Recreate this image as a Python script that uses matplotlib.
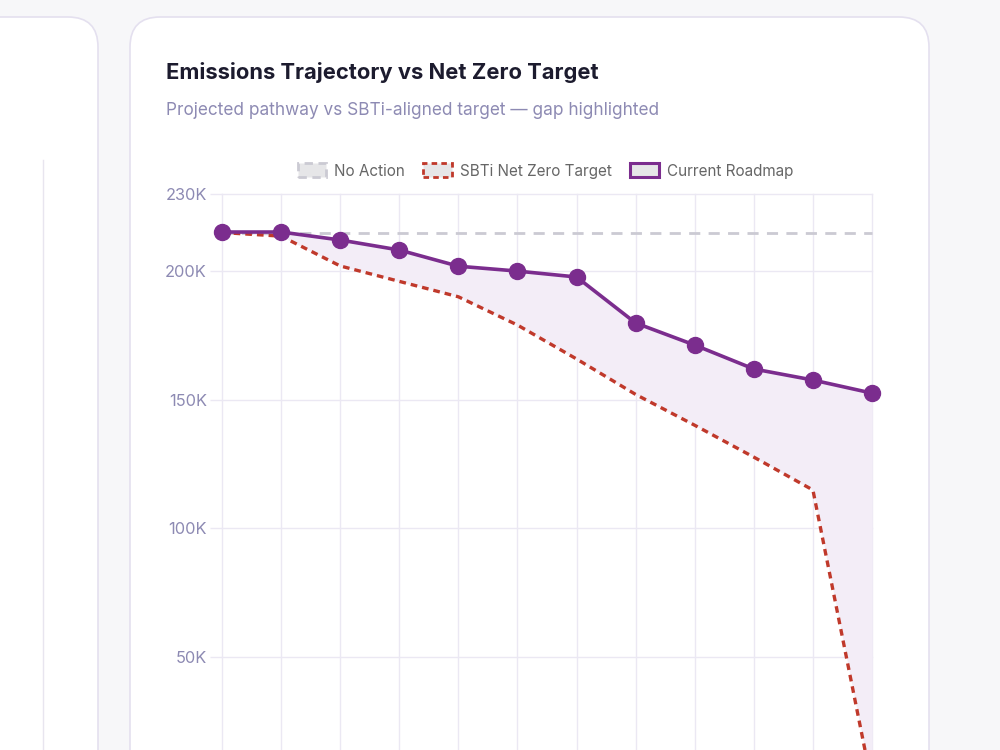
import matplotlib
matplotlib.use("Agg")
import matplotlib.pyplot as plt
from matplotlib.patches import FancyBboxPatch, Patch

plt.rcParams['font.family'] = ['Inter', 'DejaVu Sans']

# ---- data ----
years = [2024, 2025, 2026, 2027, 2028, 2029, 2030, 2031, 2032, 2033, 2034, 2035]
no_action = [215000] * 12
sbti_target = [215000, 213600, 202000, 196000, 190000, 179000, 165800, 152000, 140000, 127600, 114800, 0]
current_roadmap = [215200, 215200, 212100, 208200, 201900, 200000, 197700, 179800, 171200, 161900, 157600, 152500]
y_ticks = [50000, 100000, 150000, 200000, 230000]
y_tick_labels = ["50K", "100K", "150K", "200K", "230K"]

title = "Emissions Trajectory vs Net Zero Target"
subtitle = "Projected pathway vs SBTi-aligned target \u2014 gap highlighted"

W, H = 1000, 750
fig = plt.figure(figsize=(10, 7.5), dpi=100)
fig.patch.set_facecolor('#f7f7f9')

# background layer in pixel coords
bg = fig.add_axes([0, 0, 1, 1], zorder=-5)
bg.set_xlim(0, W)
bg.set_ylim(H, 0)
bg.axis('off')
card_edge = '#e4e0ef'
bg.add_patch(FancyBboxPatch((-200, 17), 298, 900, boxstyle="round,pad=0,rounding_size=30",
                            facecolor='white', edgecolor=card_edge, linewidth=1.2))
bg.add_patch(FancyBboxPatch((130, 17), 799, 900, boxstyle="round,pad=0,rounding_size=30",
                            facecolor='white', edgecolor=card_edge, linewidth=1.2))
bg.plot([43, 43], [160, 760], color='#e8e5ef', linewidth=1)

def fx(px):
    return px / W

def fy(py):
    return 1 - py / H

fig.text(fx(166), fy(79), title, fontsize=15.8, fontweight='bold', color='#1c1b2e', va='baseline')
fig.text(fx(166), fy(115), subtitle, fontsize=12.4, color='#8d8ab3', va='baseline')

# main axes: x from 222 to 872, y 0 at 785, 230K at 194
left, right = 222, 872
top, bottom = 194, 785
ax = fig.add_axes([fx(left), fy(bottom), (right - left) / W, (bottom - top) / H])
ax.set_facecolor('none')
x = list(range(len(years)))
ax.set_xlim(0, len(years) - 1)
ax.set_ylim(0, 230000)

grid_c = '#ebe8f3'
ax.set_yticks(y_ticks)
ax.set_yticklabels(y_tick_labels)
ax.set_xticks(x)
ax.set_xticklabels([])
ax.tick_params(axis='y', length=9, width=1, color=grid_c, pad=1.8, labelsize=11.8, labelcolor='#8d8ab3')
ax.tick_params(axis='x', length=0)
ax.grid(True, color=grid_c, linewidth=1)
for gl in ax.get_xgridlines() + ax.get_ygridlines():
    gl.set_clip_on(False)
for s in ax.spines.values():
    s.set_visible(False)
ax.set_axisbelow(True)

purple = '#7b2d8e'
red = '#c0392b'
gray = '#cbcad3'

ax.fill_between(x, sbti_target, current_roadmap, color='#f3edf7', linewidth=0, zorder=1)
ax.plot(x, no_action, color=gray, linewidth=2, dashes=(4, 3), zorder=2, clip_on=False)
ax.plot(x, sbti_target, color=red, linewidth=2.4, dashes=(2, 1.5), zorder=3, clip_on=False)
ax.plot(x, current_roadmap, color=purple, linewidth=2.6, marker='o', markersize=11.5,
        markerfacecolor=purple, markeredgecolor=purple, zorder=4, clip_on=False)

handles = [
    Patch(facecolor='#e6e6e8', edgecolor=gray, linestyle=(0, (3, 2)), linewidth=2),
    Patch(facecolor='#e6e6e8', edgecolor=red, linestyle=(0, (2, 1.5)), linewidth=2),
    Patch(facecolor='#e6e6e8', edgecolor=purple, linewidth=2.2),
]
labels = ["No Action", "SBTi Net Zero Target", "Current Roadmap"]
fig.legend(handles, labels, loc='center', bbox_to_anchor=(fx(545.5), fy(171)), ncol=3,
           frameon=False, fontsize=11, labelcolor='#666666', handlelength=1.85,
           handleheight=1.0, handletextpad=0.55, columnspacing=1.2, borderaxespad=0)

fig.savefig('out.png', dpi=100, facecolor=fig.get_facecolor())
